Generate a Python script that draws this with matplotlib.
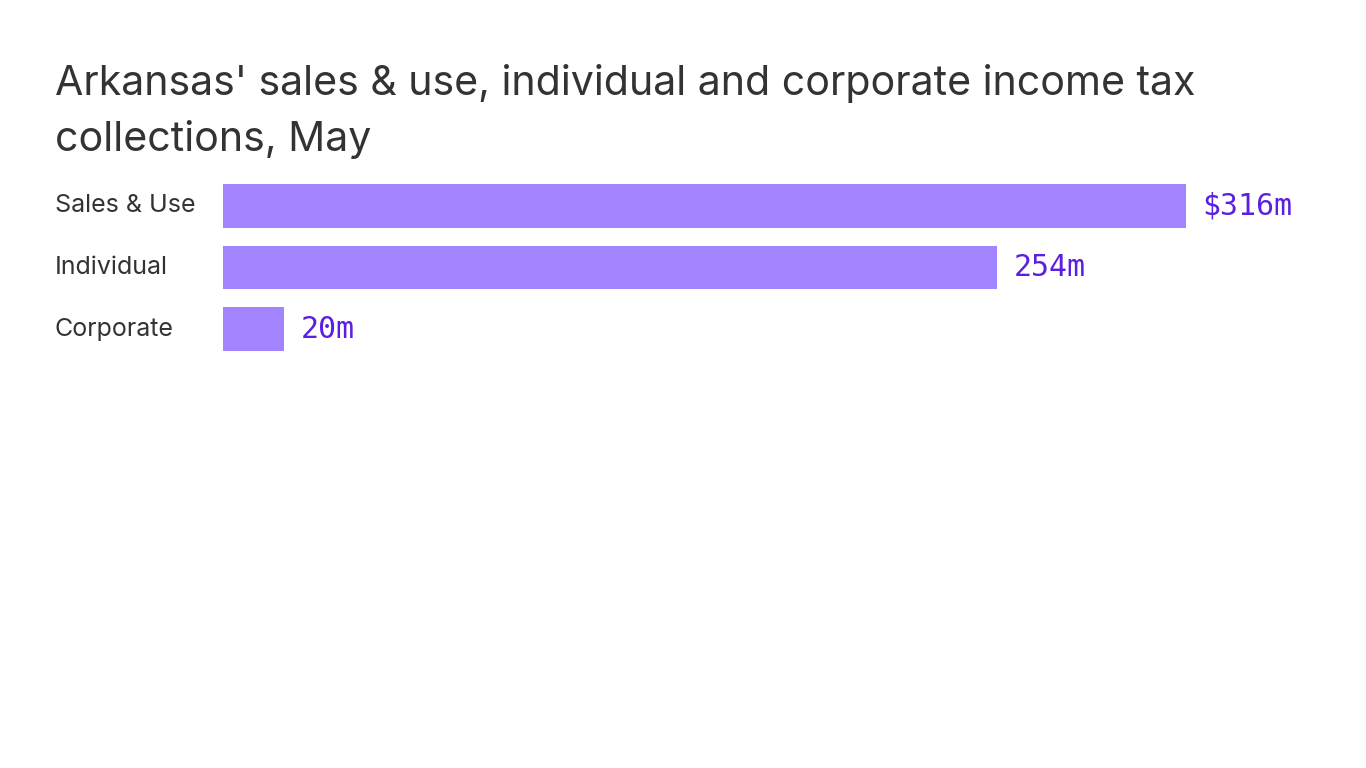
import matplotlib.pyplot as plt

# data
categories = ["Sales & Use", "Individual", "Corporate"]
values = [316, 254, 20]
value_labels = ["$316m", "254m", "20m"]

W, H = 1366, 768
fig = plt.figure(figsize=(W / 100, H / 100), dpi=100)

# axes placed in pixel coords: bars from x=223, 316 ends at x=1186
left, right = 223, 1186
top, bottom = 184, 351
ax = fig.add_axes([left / W, 1 - bottom / H, (right - left) / W, (bottom - top) / H])

bar_h = 0.715
ax.barh(range(len(values)), values, height=bar_h, color="#a384ff")
ax.set_xlim(0, max(values))
ax.set_ylim(len(values) - 1 + bar_h / 2, -bar_h / 2)
ax.axis("off")

for i, (v, lab) in enumerate(zip(values, value_labels)):
    ax.annotate(lab, (v, i), xytext=(12, 0), textcoords="offset points",
                va="center", ha="left", fontsize=21.5, color="#5a1fe0",
                family="DejaVu Sans Mono", annotation_clip=False)

for i, c in enumerate(categories):
    fig.text(55 / W, 1 - (206 + i * 61.5) / H, c, ha="left", va="center",
             fontsize=18, color="#333333", family="Inter")

fig.text(55 / W, 1 - 64 / H,
         "Arkansas' sales & use, individual and corporate income tax\ncollections, May",
         ha="left", va="top", fontsize=29.6, color="#333333", family="Inter",
         linespacing=1.56)

fig.savefig("out.png", dpi=100, facecolor="white")
